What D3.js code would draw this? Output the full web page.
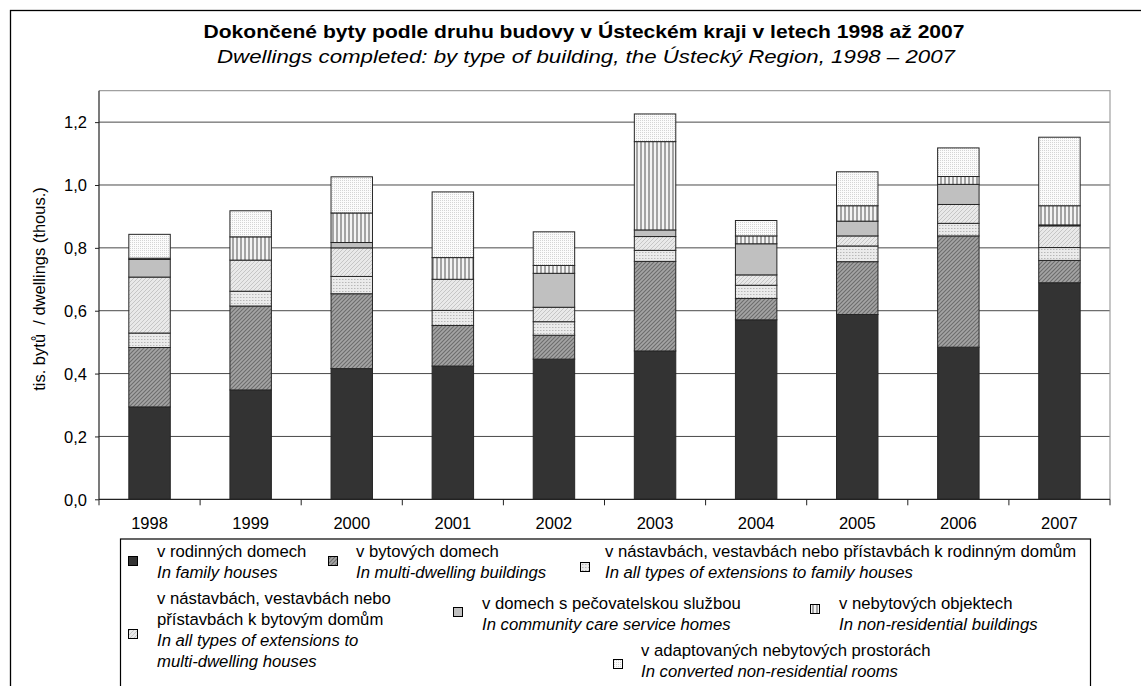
<!DOCTYPE html>
<html>
<head>
<meta charset="utf-8">
<script src="https://cdn.jsdelivr.net/npm/d3@7"></script>
<style>
  html, body { margin: 0; padding: 0; background: #fff; }
  svg { display: block; font-family: "Liberation Sans", Arial, sans-serif; }
</style>
</head>
<body>
<svg id="chart" width="1141" height="686"></svg>
<script>
// ---- data ----
const years = ["1998","1999","2000","2001","2002","2003","2004","2005","2006","2007"];
const familyHouses   = [0.294,0.348,0.416,0.424,0.446,0.472,0.571,0.588,0.484,0.689];
const multiDwelling  = [0.189,0.267,0.238,0.129,0.076,0.285,0.068,0.168,0.354,0.071];
const extFamily      = [0.046,0.047,0.055,0.048,0.043,0.035,0.042,0.050,0.040,0.041];
const extMulti       = [0.178,0.099,0.091,0.099,0.046,0.044,0.033,0.032,0.060,0.069];
const careHomes      = [0.056,0.000,0.017,0.000,0.108,0.021,0.099,0.047,0.064,0.003];
const nonResidential = [0.004,0.074,0.094,0.069,0.025,0.281,0.025,0.049,0.025,0.061];
const converted      = [0.076,0.083,0.115,0.209,0.107,0.088,0.049,0.108,0.091,0.218];
const yTicks = [0,0.2,0.4,0.6,0.8,1.0,1.2];
const yTickLabels = ["0,0","0,2","0,4","0,6","0,8","1,0","1,2"];

const titleCz = "Dokončené byty podle druhu budovy v Ústeckém kraji v letech 1998 až 2007";
const titleEn = "Dwellings completed: by type of building, the Ústecký Region, 1998 – 2007";
const yTitle = "tis. bytů  / dwellings (thous.)";

const seriesKeys = ["family","multi","extFam","extMulti","care","nonRes","converted"];
const seriesArrays = [familyHouses, multiDwelling, extFamily, extMulti, careHomes, nonResidential, converted];
const seriesCz = ["v rodinných domech","v bytových domech","v nástavbách, vestavbách nebo přístavbách k rodinným domům",
  "v nástavbách, vestavbách nebo|přístavbách k bytovým domům","v domech s pečovatelskou službou","v nebytových objektech","v adaptovaných nebytových prostorách"];
const seriesEn = ["In family houses","In multi-dwelling buildings","In all types of extensions to family houses",
  "In all types of extensions to|multi-dwelling houses","In community care service homes","In non-residential buildings","In converted non-residential rooms"];

// ---- setup ----
const svg = d3.select("#chart");
const plot = {left: 99, right: 1110, top: 90.7, bottom: 499.3};

const defs = svg.append("defs");
function pat(id, w, h, build) {
  const p = defs.append("pattern").attr("id", id).attr("patternUnits", "userSpaceOnUse")
    .attr("width", w).attr("height", h);
  build(p);
}
pat("pMulti", 4, 4, p => {
  p.append("rect").attr("width",4).attr("height",4).attr("fill","#a4a4a4");
  p.append("path").attr("d","M-1,1 L1,-1 M0,4 L4,0 M3,5 L5,3").attr("stroke","#6c6c6c").attr("stroke-width",1.1);
});
pat("pExtFam", 3, 3, p => {
  p.append("rect").attr("width",3).attr("height",3).attr("fill","#ebebeb");
  p.append("rect").attr("width",1).attr("height",1).attr("fill","#b8b8b8");
  p.append("rect").attr("x",1).attr("width",1).attr("height",1).attr("fill","#d2d2d2");
});
pat("pExtMulti", 4, 4, p => {
  p.append("rect").attr("width",4).attr("height",4).attr("fill","#e9e9e9");
  p.append("path").attr("d","M-1,1 L1,-1 M0,4 L4,0 M3,5 L5,3").attr("stroke","#c6c6c6").attr("stroke-width",1);
});
pat("pNonRes", 4, 4, p => {
  p.append("rect").attr("width",4).attr("height",4).attr("fill","#f4f4f4");
  p.append("rect").attr("width",2).attr("height",4).attr("fill","#a4a4a4");
});
pat("pConv", 2, 2, p => {
  p.append("rect").attr("width",2).attr("height",2).attr("fill","#fbfbfb");
  p.append("rect").attr("width",1).attr("height",1).attr("fill","#d4d4d4");
});
const fills = {family:"#333333", multi:"url(#pMulti)", extFam:"url(#pExtFam)", extMulti:"url(#pExtMulti)",
  care:"#c0c0c0", nonRes:"url(#pNonRes)", converted:"url(#pConv)"};

// outer frame
svg.append("rect").attr("x",10.5).attr("y",10.5).attr("width",1160).attr("height",720)
  .attr("fill","none").attr("stroke","#000").attr("stroke-width",1.3);

// titles
svg.append("text").attr("x",584).attr("y",38).attr("text-anchor","middle")
  .attr("font-size",19).attr("font-weight","bold").attr("textLength",761).attr("lengthAdjust","spacingAndGlyphs").text(titleCz);
svg.append("text").attr("x",586).attr("y",63).attr("text-anchor","middle")
  .attr("font-size",19).attr("font-style","italic").attr("textLength",738).attr("lengthAdjust","spacingAndGlyphs").text(titleEn);

// scales
const x = d3.scaleBand().domain(years).range([plot.left, plot.right]).paddingInner(0.59).paddingOuter(0.295);
const y = d3.scaleLinear().domain([0,1.3]).range([plot.bottom, plot.top]);

// gridlines
svg.append("g").selectAll("line").data(yTicks.filter(t => t > 0)).join("line")
  .attr("x1",plot.left).attr("x2",plot.right).attr("y1",d=>y(d)).attr("y2",d=>y(d))
  .attr("stroke","#4a4a4a").attr("stroke-width",1);

// plot border (top/right)
svg.append("path").attr("d",`M${plot.left},${plot.top}H${plot.right}V${plot.bottom}`)
  .attr("fill","none").attr("stroke","#a0a0a0").attr("stroke-width",1.2);

// stacked bars
const rows = years.map((yr,i) => {
  const r = {year: yr};
  seriesKeys.forEach((k,j) => r[k] = seriesArrays[j][i]);
  return r;
});
const stacked = d3.stack().keys(seriesKeys)(rows);
const gBars = svg.append("g");
stacked.forEach(s => {
  gBars.append("g").attr("fill", fills[s.key]).selectAll("rect").data(s).join("rect")
    .attr("x", d => x(d.data.year)).attr("width", x.bandwidth())
    .attr("y", d => y(d[1])).attr("height", d => Math.max(0, y(d[0]) - y(d[1])))
    .attr("stroke", "#262626").attr("stroke-width", 1)
    .attr("display", d => (d[1]-d[0]) > 0 ? null : "none");
});

// y axis
const yAxis = d3.axisLeft(y).tickValues(yTicks).tickSize(4).tickPadding(8)
  .tickFormat((d,i) => yTickLabels[i]);
const gy = svg.append("g").attr("transform",`translate(${plot.left},0)`).call(yAxis);
gy.select(".domain").attr("d",`M0,${plot.top}V${plot.bottom}`).attr("stroke","#222").attr("stroke-width",1.2);
gy.selectAll(".tick line").attr("stroke","#222");
gy.selectAll("text").attr("font-size",16.5).attr("font-family","Liberation Sans, Arial, sans-serif").attr("fill","#000").attr("dy","0.35em");

// x axis
const xAxis = d3.axisBottom(x).tickSize(0).tickPadding(0);
const gx = svg.append("g").attr("transform",`translate(0,${plot.bottom})`).call(xAxis);
gx.select(".domain").attr("d",`M${plot.left},0H${plot.right}`).attr("stroke","#222").attr("stroke-width",1.2);
gx.selectAll("text").attr("font-size",16.5).attr("font-family","Liberation Sans, Arial, sans-serif").attr("fill","#000")
  .attr("y",30).attr("dy",0);
const bounds = d3.range(years.length + 1).map(i => plot.left + i * x.step());
gx.append("g").selectAll("line").data(bounds).join("line")
  .attr("x1",d=>d).attr("x2",d=>d).attr("y1",0).attr("y2",6).attr("stroke","#222");

// y title
svg.append("text").attr("transform","translate(45,289) rotate(-90)").attr("text-anchor","middle")
  .attr("font-size",16.5).attr("xml:space","preserve").style("white-space","pre").text(yTitle);

// legend
svg.append("rect").attr("x",120.5).attr("y",539).attr("width",970).attr("height",200)
  .attr("fill","#fff").attr("stroke","#000").attr("stroke-width",1.2);
const legendPos = [
  {mx:133, my:561, tx:157, ty:557},
  {mx:333, my:561, tx:356, ty:557},
  {mx:585, my:567, tx:605, ty:557},
  {mx:133, my:634, tx:157, ty:604},
  {mx:458, my:612, tx:482, ty:609},
  {mx:815, my:609, tx:839, ty:609},
  {mx:618, my:664, tx:641, ty:656}
];
const lineH = 21;
const gLeg = svg.append("g").attr("font-size",16.7);
seriesKeys.forEach((k,i) => {
  const p = legendPos[i];
  gLeg.append("rect").attr("x",p.mx-4.5).attr("y",p.my-4.5).attr("width",9).attr("height",9)
    .attr("fill",fills[k]).attr("stroke","#000").attr("stroke-width",1);
  const cz = seriesCz[i].split("|"), en = seriesEn[i].split("|");
  let ly = p.ty;
  cz.forEach(t => { gLeg.append("text").attr("x",p.tx).attr("y",ly).text(t); ly += lineH; });
  en.forEach(t => { gLeg.append("text").attr("x",p.tx).attr("y",ly).attr("font-style","italic").text(t); ly += lineH; });
});
</script>
</body>
</html>
